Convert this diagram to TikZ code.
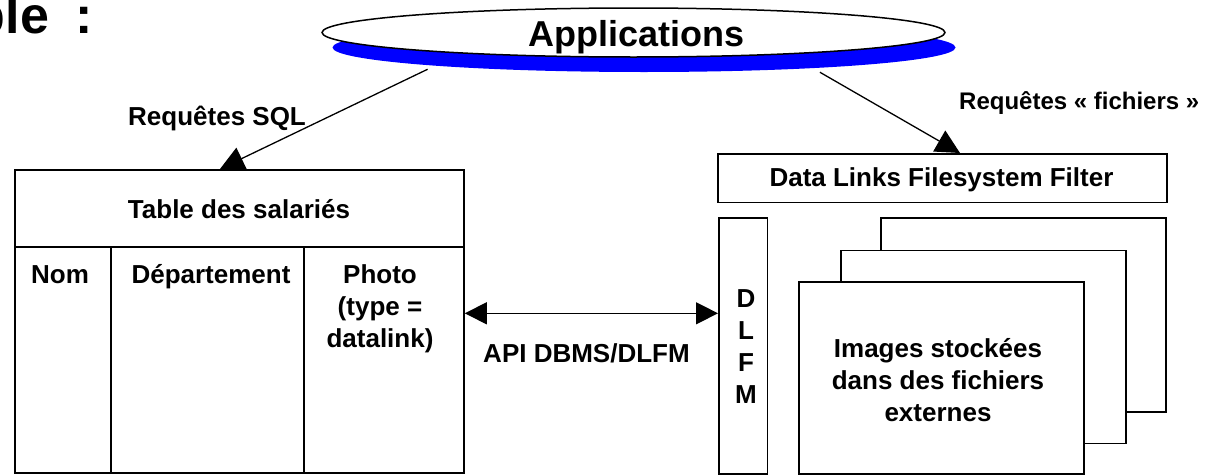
\documentclass[tikz,border=0pt]{standalone}
\usepackage{fontspec}
\setmainfont{Liberation Sans}
\usetikzlibrary{arrows.meta,shapes.geometric}
\definecolor{shadowblue}{RGB}{0,0,255}
\begin{document}
\begin{tikzpicture}[x=1pt,y=-1pt,
  box/.style={draw, line width=1.8pt, fill=white, inner sep=0pt, anchor=north west},
  lbl/.style={font=\fontsize{26}{32}\selectfont\bfseries, inner sep=0pt},
  conn/.style={line width=1.3pt, -{Triangle[length=24pt,width=24pt]}},
  dconn/.style={line width=1.3pt, {Triangle[length=22pt,width=22pt]}-{Triangle[length=22pt,width=22pt]}}
]
\useasboundingbox (0,0) rectangle (1229,474);

% title fragment
\node[font=\fontsize{52}{60}\selectfont\bfseries, inner sep=0pt, anchor=base west] (title) at (-26.4,33.3) {ple~\hspace{12pt}:};

% Applications ellipse with blue shadow
\node[ellipse, fill=shadowblue, minimum width=623pt, minimum height=49pt, inner sep=0pt] (shadow) at (644,47.5) {};
\node[ellipse, draw, line width=1.5pt, fill=white, minimum width=623pt, minimum height=49pt, inner sep=0pt] (app) at (633.5,32.5) {};
\node[font=\fontsize{36}{40}\selectfont\bfseries, inner sep=0pt, anchor=base] (apptext) at (636.5,46.5) {Applications};

% table
\node[box, minimum width=449pt, minimum height=77pt] (head) at (14,169) {};
\node[box, minimum width=96pt, minimum height=226pt] (nom) at (14,246) {};
\node[box, minimum width=193pt, minimum height=226pt] (dep) at (110,246) {};
\node[box, minimum width=160pt, minimum height=226pt] (photo) at (303,246) {};
\node[lbl, anchor=base] (headtxt) at (239,218) {Table des salariés};
\node[lbl, anchor=base] (nomtxt) at (60,283) {Nom};
\node[lbl, anchor=base] (deptxt) at (211,283) {Département};
\node[lbl, anchor=base, align=center] (phototxt) at (380,347) {Photo\\(type =\\datalink)};

% right side
\node[box, minimum width=449pt, minimum height=48.5pt] (filter) at (717,153) {};
\node[lbl, anchor=base] (filtertxt) at (941.5,186.5) {Data Links Filesystem Filter};
\node[box, minimum width=48.5pt, minimum height=256pt] (dlfm) at (718,217) {};
\node[lbl, anchor=base, align=center] (dlfmtxt) at (746,403) {D\\L\\F\\M};
\node[box, minimum width=285pt, minimum height=194pt] (back) at (880,217) {};
\node[box, minimum width=285pt, minimum height=193pt] (mid) at (840,249.5) {};
\node[box, minimum width=285pt, minimum height=192pt] (front) at (798,281) {};
\node[lbl, anchor=base, align=center] (imgtxt) at (938,421.5) {Images stockées\\dans des fichiers\\externes};

% connectors
\coordinate (sqlend) at (220,169);
\coordinate (fileend) at (960,153);
\coordinate (apiy) at (0,313.3);
\draw[conn, shorten <=8pt] (shadow.185.3) -- (sqlend);
\draw[conn, shorten <=8pt] (shadow.353.5) -- (fileend);
\draw[dconn] (photo.east |- apiy) -- (dlfm.west |- apiy);

% connector labels
\node[lbl, anchor=base west] (sqllbl) at (128,125) {Requêtes SQL};
\node[lbl, font=\fontsize{24}{30}\selectfont\bfseries, anchor=base west] (filelbl) at (959,109) {Requêtes « fichiers »};
\node[lbl, anchor=base] (apilbl) at (586.5,362) {API DBMS/DLFM};
\end{tikzpicture}
\end{document}
